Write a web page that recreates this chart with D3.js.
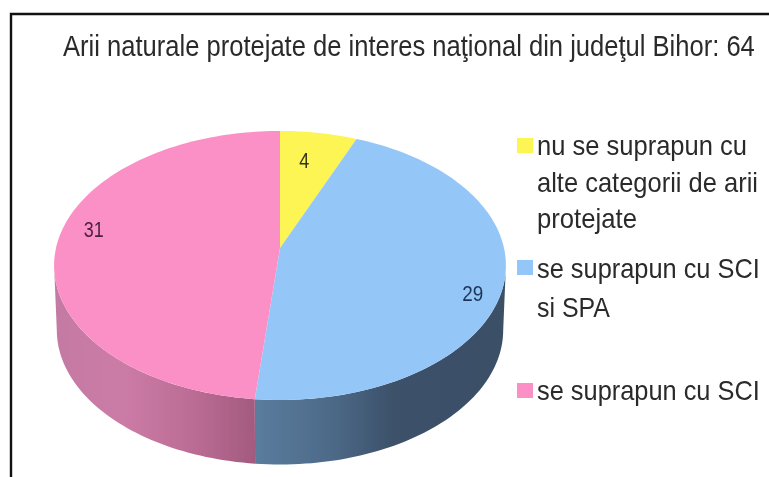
<!DOCTYPE html>
<html>
<head>
<meta charset="utf-8">
<script src="https://cdn.jsdelivr.net/npm/d3@7"></script>
<style>
  html, body { margin: 0; padding: 0; background: #fff; }
  svg { display: block; }
  text { font-family: "Liberation Sans", Arial, sans-serif; fill: #2b2b2b; }
</style>
</head>
<body>
<script>
const titleText = 'Arii naturale protejate de interes naţional din judeţul Bihor: 64';
const categories = ['nu se suprapun cu alte categorii de arii protejate', 'se suprapun cu SCI si SPA', 'se suprapun cu SCI'];
const values = [4, 29, 31];
const topColors = ['#fdf552', '#94c6f7', '#fb90c6'];

const width = 769, height = 477;

const svg = d3.select('body').append('svg')
  .attr('width', width)
  .attr('height', height);

const defs = svg.append('defs');
defs.append('filter').attr('id', 'soft')
  .attr('x', '-5%').attr('y', '-5%').attr('width', '110%').attr('height', '110%')
  .append('feGaussianBlur').attr('stdDeviation', 0.7);

// the picture is a tilted pie with perspective, so the centre is not the ellipse centre
const cx = 280, radius = 224, persp = -0.13, centerY = 248, spanY = 100, depth = 64.5;

function project(angle, r, down) {
  const u = Math.sin(angle) * r;
  const v = -Math.cos(angle) * r;
  const w = 1 + persp * v;
  const shrink = 1 - (down ? 0.012 : 0);
  return [
    cx + radius * shrink * u / w,
    (spanY * v + centerY) / w + (down ? depth : 0)
  ];
}

const pie = d3.pie().sort(null).value(d => d);
const arcs = pie(values);

function arcPoints(a0, a1, down) {
  const n = Math.max(2, Math.ceil(Math.abs(a1 - a0) * 40));
  return d3.range(n + 1).map(i => project(a0 + (a1 - a0) * i / n, 1, down));
}

// the text in the picture is squeezed sideways, so scale it to the wanted width
function squeezedText(parent, str, x, y, size, targetWidth, anchor) {
  const t = parent.append('text')
    .attr('font-size', size)
    .text(str);
  const sx = targetWidth / t.node().getComputedTextLength();
  const left = anchor === 'middle' ? x - targetWidth / 2 : x;
  t.attr('transform', `translate(${left},${y}) scale(${sx},1)`);
  return t;
}

const line = d3.line();
const chart = svg.append('g').attr('filter', 'url(#soft)');

// side wall: blue then pink, each with its own horizontal shading
const wallStops = {
  1: [[0, '#5b7c9e'], [0.3, '#4d6a88'], [0.55, '#3c5169'], [1, '#3a4f66']],
  2: [[0, '#c47aa3'], [0.35, '#cb7ba5'], [0.7, '#bb6c94'], [1, '#a35a7f']]
};
const wallRange = {
  1: [255, 506],
  2: [54, 255]
};
// the wall ends where the ellipse edge turns vertical
const tangent = Math.acos(persp);
[1, 2].forEach(i => {
  const g = defs.append('linearGradient')
    .attr('id', 'wall' + i)
    .attr('gradientUnits', 'userSpaceOnUse')
    .attr('x1', wallRange[i][0]).attr('x2', wallRange[i][1])
    .attr('y1', 0).attr('y2', 0);
  wallStops[i].forEach(s => g.append('stop').attr('offset', s[0]).attr('stop-color', s[1]));
  const a0 = i === 1 ? tangent : arcs[i].startAngle;
  const a1 = i === 1 ? arcs[i].endAngle : Math.PI * 2 - tangent;
  const pts = arcPoints(a0, a1, false).concat(arcPoints(a1, a0, true));
  chart.append('path')
    .attr('d', line(pts) + 'Z')
    .attr('fill', 'url(#wall' + i + ')');
});

// top face
arcs.forEach((d, i) => {
  const pts = [project(0, 0, false)].concat(arcPoints(d.startAngle, d.endAngle, false));
  chart.append('path')
    .attr('d', line(pts) + 'Z')
    .attr('fill', topColors[i]);
});

// value labels, pulled along the slice and nudged off the mid angle
const labelRadius = [0.737, 0.887, 0.86];
const labelShift = [-2, 7.6, 7];
const labelColors = ['#33331a', '#1d3557', '#4a2140'];
const labelWidths = [10, 21, 20];
arcs.forEach((d, i) => {
  const mid = (d.startAngle + d.endAngle) / 2 + labelShift[i] * Math.PI / 180;
  const p = project(mid, labelRadius[i], false);
  squeezedText(chart, String(values[i]), p[0], p[1] + 8, 22, labelWidths[i], 'middle')
    .style('fill', labelColors[i]);
});

const ink = svg.append('g').attr('filter', 'url(#soft)');

squeezedText(ink, titleText, 63, 56, 29, 692, 'start');

// legend, wrapped by hand as in the picture
const legendLines = [
  [['nu se suprapun cu', 155, 210], ['alte categorii de arii', 192, 221], ['protejate', 228, 100]],
  [['se suprapun cu SCI', 278, 223], ['si SPA', 317, 73]],
  [['se suprapun cu SCI', 400, 223]]
];
const swatchY = [138, 260, 383];
legendLines.forEach((rows, i) => {
  ink.append('rect')
    .attr('x', 517).attr('y', swatchY[i])
    .attr('width', 16).attr('height', 15)
    .attr('fill', topColors[i]);
  rows.forEach(r => squeezedText(ink, r[0], 537, r[1], 27, r[2], 'start'));
});

// frame runs off the right and bottom edges of the picture
svg.append('path')
  .attr('d', d3.line()([[11, height], [11, 14], [width, 14]]))
  .attr('fill', 'none')
  .attr('stroke', '#111')
  .attr('stroke-width', 2.4);
</script>
</body>
</html>
